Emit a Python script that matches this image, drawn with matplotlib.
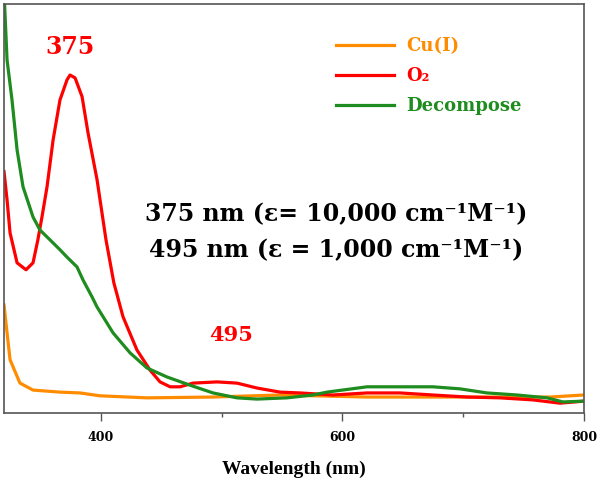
import matplotlib
matplotlib.use("Agg")
import matplotlib.pyplot as plt

plt.rcParams['font.family'] = ['Liberation Serif', 'DejaVu Serif']
plt.rcParams['font.weight'] = 'bold'

# Cu(I)
cu_wl = [320, 322.5, 325, 333.2, 344, 366.3, 382.9, 399.4, 438.3, 493, 548.4, 620.4, 730.5, 771.9, 800]
cu_abs = [0.264, 0.196, 0.130, 0.073, 0.056, 0.051, 0.049, 0.042, 0.037, 0.039, 0.044, 0.039, 0.039, 0.039, 0.044]

# O2
o2_wl = [320, 322.5, 325, 330.8, 338.2, 344, 348, 351.4, 355.6, 360.6, 366.3, 372.1, 374.6, 378.8,
         384.6, 389.5, 397, 404.4, 410.9, 418.5, 430, 440.8, 449.1, 457.4, 465.7, 476.4, 496.3,
         512.8, 529.4, 548.4, 565, 592.3, 620.4, 647.7, 675, 703.2, 730.5, 757.8, 780.1, 800]
o2_abs = [0.59, 0.521, 0.44, 0.367, 0.350, 0.367, 0.423, 0.479, 0.553, 0.667, 0.765, 0.814, 0.826, 0.819,
          0.773, 0.685, 0.570, 0.423, 0.318, 0.235, 0.154, 0.105, 0.076, 0.064, 0.064, 0.073, 0.076,
          0.073, 0.061, 0.051, 0.049, 0.044, 0.049, 0.049, 0.044, 0.039, 0.037, 0.032, 0.024, 0.029]

# Decompose
de_wl = [320, 322.5, 326.6, 330.8, 335.7, 344, 349.8, 358.1, 366.3, 372.1, 380.4, 385.4, 392.8, 397,
         410.2, 424.3, 438.3, 454.9, 473.9, 493, 512.8, 529.4, 554.2, 575.7, 587.3, 620.4, 647.7,
         675, 697.4, 719.7, 744.6, 769.4, 782.6, 800]
de_abs = [1.03, 0.863, 0.765, 0.643, 0.553, 0.479, 0.447, 0.423, 0.399, 0.381, 0.357, 0.325, 0.284, 0.259,
          0.196, 0.147, 0.110, 0.088, 0.068, 0.049, 0.037, 0.034, 0.037, 0.044, 0.051, 0.064, 0.064,
          0.064, 0.059, 0.049, 0.044, 0.037, 0.027, 0.029]

labels = ['Cu(I)', 'O\u2082', 'Decompose']
colors = ['#FF8C00', '#FF0000', '#1E8C1E']
xticks = [400, 600, 800]
line1 = '375 nm (\u03b5= 10,000 cm\u207b\u00b9M\u207b\u00b9)'
line2 = '495 nm (\u03b5 = 1,000 cm\u207b\u00b9M\u207b\u00b9)'

DJ = ['DejaVu Serif']

fig = plt.figure(figsize=(6.01, 4.78), dpi=100)
ax = fig.add_axes([0.0067, 0.136, 0.965, 0.856])

lw = 2.3
ax.plot(cu_wl, cu_abs, color=colors[0], lw=lw, label=labels[0])
ax.plot(o2_wl, o2_abs, color=colors[1], lw=lw, label=labels[1])
ax.plot(de_wl, de_abs, color=colors[2], lw=lw, label=labels[2])

ax.set_xlim(320, 800)
ax.set_ylim(0, 1.0)
ax.set_xticks(xticks)
ax.set_xticks([500, 700], minor=True)
ax.set_xticklabels([str(t) for t in xticks], fontsize=9, fontweight='bold', family=DJ)
ax.set_yticks([])
ax.tick_params(axis='x', which='major', direction='out', length=6, width=1, color='#555555', pad=7)
ax.tick_params(axis='x', which='minor', direction='out', length=3, width=1, color='#555555')
for s in ax.spines.values():
    s.set_color('#555555')
    s.set_linewidth(1.2)

ax.set_xlabel('Wavelength (nm)', fontsize=14, fontweight='bold', labelpad=12)

leg = ax.legend(loc='upper left', bbox_to_anchor=(0.545, 0.958), frameon=False,
                handlelength=3.2, handletextpad=0.65, labelspacing=0.66,
                prop={'family': DJ, 'weight': 'bold', 'size': 13})
for txt, c in zip(leg.get_texts(), colors):
    txt.set_color(c)

ax.text(375, 0.865, '375', color='#FF0000', fontsize=17, fontweight='bold',
        ha='center', va='bottom', family=DJ)
ax.text(508, 0.165, '495', color='#FF0000', fontsize=15, fontweight='bold',
        ha='center', va='bottom', family=DJ)

ax.text(0.572, 0.487, line1, transform=ax.transAxes, family=DJ,
        fontsize=17, fontweight='bold', ha='center', va='center', color='black')
ax.text(0.572, 0.397, line2, transform=ax.transAxes, family=DJ,
        fontsize=17, fontweight='bold', ha='center', va='center', color='black')

fig.savefig('out.png', dpi=100)
